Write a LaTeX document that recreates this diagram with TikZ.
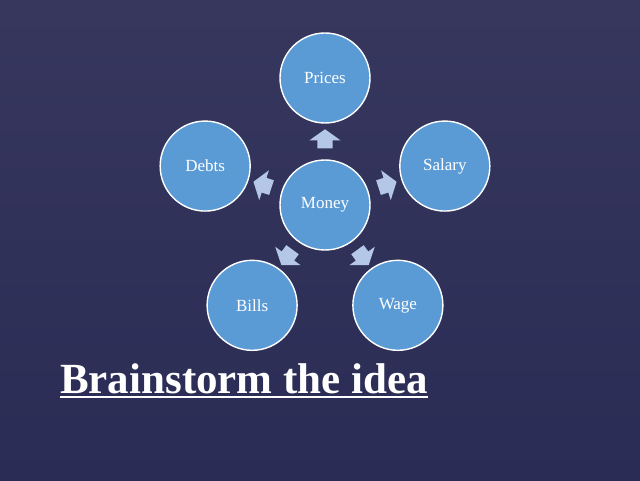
\documentclass[tikz,border=0pt]{standalone}
\usepackage{fontspec}
\setmainfont{Liberation Serif}
\usepackage{xcolor}
\usepackage{tikz}
\usetikzlibrary{positioning,calc,shapes.arrows}

\definecolor{slide}{HTML}{37375E}
\definecolor{slidedark}{HTML}{2A2C55}
\definecolor{bubblefill}{HTML}{5B9BD5}
\definecolor{pointerfill}{HTML}{B4C7E7}

\begin{document}
\begin{tikzpicture}[
  x=1pt,y=1pt,
  bubble/.style={circle,draw=white,line width=1.4pt,fill=bubblefill,
                 minimum size=90pt,inner sep=0pt,text=white,
                 font=\fontsize{17}{20}\selectfont},
  pointer/.style={single arrow,fill=pointerfill,draw=none,
                  inner xsep=0pt,inner ysep=7.5pt,
                  minimum height=19pt,minimum width=31pt,
                  single arrow head extend=8pt,single arrow tip angle=109}
]
\shade[top color=slide,bottom color=slidedark] (0,0) rectangle (640,480);
\useasboundingbox (0,0) rectangle (640,480);

\node[bubble] (money) at (325,275) {Money};
\node[bubble] (prices) at ($(money)+(90:127)$) {Prices};
\node[bubble] (salary) at ($(money)+(18:126)$) {Salary};
\node[bubble] (wage) at ($(money)+(-54:124)$) {Wage};
\node[bubble] (bills) at ($(money)+(234:124)$) {Bills};
\node[bubble] (debts) at ($(money)+(162:126)$) {Debts};

\node[pointer,rotate=90] (toprices) at ($(money)!0.5!(prices)$) {};
\node[pointer,rotate=18] (tosalary) at ($(money)!0.5!(salary)$) {};
\node[pointer,rotate=-54] (towage) at ($(money)!0.5!(wage)$) {};
\node[pointer,rotate=234] (tobills) at ($(money)!0.5!(bills)$) {};
\node[pointer,rotate=162] (todebts) at ($(money)!0.5!(debts)$) {};

\node[anchor=base west,inner sep=0pt,text=white,
      font=\fontsize{43}{50}\selectfont\bfseries] (title) at (60,87)
  {Brainstorm the idea};
% underline of the title
\draw[white,line width=2pt] ([yshift=-4pt]title.base west) -- ([yshift=-4pt]title.base east);
\end{tikzpicture}
\end{document}
